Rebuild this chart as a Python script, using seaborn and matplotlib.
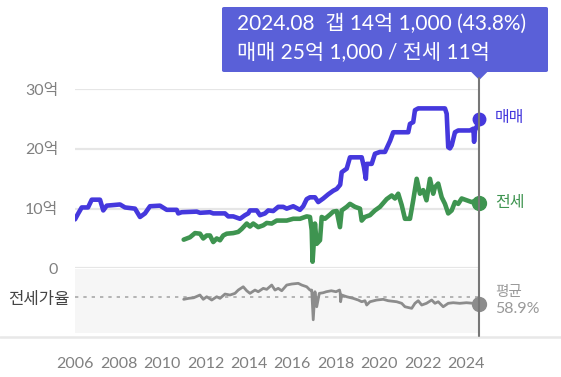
import numpy as np
import pandas as pd
import matplotlib
matplotlib.use("Agg")
import matplotlib.pyplot as plt
from matplotlib.patches import FancyBboxPatch, Polygon
from matplotlib.lines import Line2D
import seaborn as sns

# 매매 (sale price, 억)
sale_t = [2006.00, 2006.15, 2006.31, 2006.60, 2006.77, 2007.15, 2007.30, 2007.46, 2008.07, 2008.30,
          2008.76, 2008.99, 2009.22, 2009.45, 2009.91, 2010.22, 2010.68, 2010.75, 2010.91, 2011.60,
          2011.75, 2012.21, 2012.36, 2012.90, 2013.05, 2013.28, 2013.59, 2013.82, 2013.97, 2014.05,
          2014.36, 2014.51, 2014.74, 2014.89, 2015.12, 2015.35, 2015.58, 2015.74, 2016.04, 2016.35,
          2016.50, 2016.66, 2016.81, 2017.04, 2017.19, 2017.42, 2017.65, 2017.88, 2018.04, 2018.20,
          2018.27, 2018.50, 2018.65, 2019.19, 2019.29, 2019.38, 2019.42, 2019.65, 2019.80, 2020.03,
          2020.26, 2020.50, 2020.64, 2021.33, 2021.41, 2021.56, 2021.64, 2021.79, 2023.02, 2023.10,
          2023.17, 2023.25, 2023.33, 2023.48, 2023.63, 2024.17, 2024.33, 2024.36, 2024.40, 2024.48,
          2024.58]
sale_v = [8.2, 9.2, 10.2, 10.2, 11.5, 11.5, 9.7, 10.5, 10.7, 10.2,
          10.0, 8.6, 9.2, 10.4, 10.5, 9.8, 9.8, 9.2, 9.4, 9.5,
          9.3, 9.4, 9.2, 9.2, 8.7, 8.7, 8.3, 8.9, 9.2, 9.7,
          9.7, 8.9, 9.2, 9.7, 9.6, 10.3, 10.3, 10.0, 10.4, 9.8,
          10.4, 11.6, 11.9, 11.9, 11.1, 11.7, 12.4, 13.0, 13.3, 14.0,
          16.1, 16.7, 18.6, 18.6, 17.0, 15.0, 17.5, 17.5, 19.2, 19.5,
          19.5, 21.4, 22.8, 22.8, 24.2, 24.5, 26.5, 26.8, 26.8, 25.9,
          20.3, 20.1, 20.6, 22.8, 23.1, 23.1, 23.4, 21.2, 23.1, 23.7,
          25.1]

# 전세 (jeonse price, 억)
jeonse_t = [2011.00, 2011.29, 2011.52, 2011.75, 2011.90, 2012.06, 2012.21, 2012.36, 2012.52, 2012.67,
            2012.82, 2012.98, 2013.28, 2013.51, 2013.67, 2013.90, 2014.05, 2014.20, 2014.43, 2014.66,
            2014.82, 2015.05, 2015.28, 2015.74, 2016.04, 2016.35, 2016.66, 2016.81, 2016.89, 2016.93,
            2017.04, 2017.12, 2017.27, 2017.35, 2017.50, 2017.73, 2017.88, 2018.04, 2018.19, 2018.27,
            2018.50, 2018.65, 2018.88, 2019.11, 2019.19, 2019.34, 2019.57, 2019.80, 2020.03, 2020.34,
            2020.57, 2020.72, 2020.87, 2021.03, 2021.18, 2021.41, 2021.56, 2021.72, 2021.87, 2022.02,
            2022.17, 2022.33, 2022.48, 2022.56, 2022.71, 2022.87, 2023.02, 2023.17, 2023.33, 2023.48,
            2023.63, 2023.79, 2024.02, 2024.25, 2024.48, 2024.58]
jeonse_v = [4.8, 5.2, 5.9, 5.8, 5.0, 5.5, 5.5, 4.4, 5.0, 4.7,
            5.5, 5.8, 5.9, 6.1, 6.6, 7.5, 7.0, 7.5, 6.9, 7.2,
            7.6, 7.5, 8.0, 8.0, 8.3, 8.3, 8.7, 8.6, 6.4, 1.1,
            7.5, 4.1, 4.7, 8.6, 8.3, 9.0, 9.5, 9.6, 6.9, 9.7,
            10.3, 10.8, 10.3, 10.0, 8.0, 8.6, 8.9, 9.7, 10.3, 11.6,
            12.2, 11.7, 12.5, 10.6, 8.3, 8.3, 11.4, 15.0, 12.5, 13.1,
            11.4, 15.0, 12.5, 13.6, 14.2, 11.9, 10.8, 9.2, 9.7, 11.1,
            10.8, 11.7, 11.4, 11.1, 11.4, 11.0]

# 전세가율 (%)
ratio_t = [2011.00, 2011.23, 2011.46, 2011.75, 2011.90, 2012.06, 2012.29, 2012.52, 2012.67, 2012.90,
           2013.13, 2013.36, 2013.51, 2013.74, 2013.90, 2014.05, 2014.28, 2014.43, 2014.66, 2014.82,
           2015.05, 2015.20, 2015.35, 2015.51, 2015.74, 2015.97, 2016.27, 2016.43, 2016.66, 2016.81,
           2016.89, 2016.96, 2017.04, 2017.12, 2017.24, 2017.42, 2017.56, 2017.79, 2018.01, 2018.17,
           2018.20, 2018.22, 2018.27, 2018.50, 2018.80, 2019.03, 2019.19, 2019.34, 2019.42, 2019.57,
           2019.88, 2020.18, 2020.41, 2020.80, 2021.03, 2021.18, 2021.49, 2021.64, 2021.79, 2021.95,
           2022.17, 2022.41, 2022.56, 2022.71, 2022.94, 2023.17, 2023.40, 2023.70, 2024.01, 2024.32,
           2024.58]
ratio_v = [54.6, 56.7, 58.0, 63.9, 54.6, 60.2, 53.1, 60.2, 56.7, 66.0,
           63.9, 67.5, 74.6, 81.7, 73.1, 67.5, 74.6, 71.0, 78.3, 76.1,
           85.4, 74.6, 78.3, 73.1, 85.4, 87.6, 89.1, 85.4, 81.7, 74.6,
           74.6, 10.5, 71.0, 38.6, 67.5, 68.8, 71.0, 73.1, 71.0, 74.6,
           68.8, 49.4, 63.9, 60.2, 56.7, 53.1, 49.4, 51.6, 42.3, 49.4,
           53.1, 54.6, 51.6, 49.4, 46.0, 38.6, 35.2, 46.0, 51.6, 42.3,
           46.0, 53.1, 46.0, 49.4, 38.6, 46.0, 47.3, 46.0, 47.3, 46.0,
           43.8]
ratio_avg = 58.9

years = list(range(2006, 2025, 2))
price_ticks = [0, 10, 20, 30]
price_labels = ["0", "10억", "20억", "30억"]

sns.set_style("white")
plt.rcParams["font.family"] = ["Lato", "Noto Sans CJK KR", "DejaVu Sans"]

BLUE = "#4538dd"
GREEN = "#3e9450"
GREY = "#8c8c8c"
W, H = 561, 377

def fx(px):
    return px / W

def fy(py):
    return 1 - py / H

fig = plt.figure(figsize=(W / 100, H / 100), dpi=100)
x0, x1 = 75, 479.3
ax = fig.add_axes([fx(x0), fy(268.3), fx(x1 - x0), (268.3 - 89.3) / H])
ax2 = fig.add_axes([fx(x0), fy(333), fx(x1 - x0), (333 - 269) / H])

sale = pd.DataFrame({"t": sale_t, "v": sale_v})
jeonse = pd.DataFrame({"t": jeonse_t, "v": jeonse_v})
ratio = pd.DataFrame({"t": ratio_t, "v": ratio_v})

xlim = (2006.0, 2024.6)

# main panel
for y in price_ticks:
    ax.axhline(y, color="#e6e6e6", lw=1.6, zorder=0)
sns.lineplot(data=jeonse, x="t", y="v", ax=ax, color=GREEN, lw=3.3, zorder=3)
sns.lineplot(data=sale, x="t", y="v", ax=ax, color=BLUE, lw=3.3, zorder=4)
ax.plot([sale_t[-1]], [sale_v[-1]], "o", color=BLUE, ms=9, clip_on=False, zorder=5)
ax.plot([jeonse_t[-1]], [jeonse_v[-1]], "o", color=GREEN, ms=10, clip_on=False, zorder=5)
ax.set_xlim(*xlim)
ax.set_ylim(0, 30)
ax.set_yticks(price_ticks)
ax.set_yticklabels(price_labels)
ax.set_xticks([])
ax.tick_params(axis="y", length=0, pad=12, labelsize=11.5, labelcolor="#808080")
ax.set_xlabel("")
ax.set_ylabel("")
sns.despine(ax=ax, left=True, bottom=True)

# ratio panel
ax2.set_facecolor("#f6f6f6")
ax2.axhline(ratio_avg, color="#a8a8a8", lw=1.2, ls=(0, (2, 3)), zorder=1)
sns.lineplot(data=ratio, x="t", y="v", ax=ax2, color=GREY, lw=2.0, zorder=3)
ax2.plot([ratio_t[-1]], [ratio_v[-1]], "o", color=GREY, ms=10, clip_on=False, zorder=5)
ax2.set_xlim(*xlim)
ax2.set_ylim(-18, 120)
ax2.set_yticks([])
ax2.set_xticks(years)
ax2.set_xticklabels([str(y) for y in years])
ax2.tick_params(axis="x", length=0, pad=17, labelsize=11.5, labelcolor="#808080")
ax2.set_xlabel("")
ax2.set_ylabel("")
sns.despine(ax=ax2, left=True, bottom=True, top=True, right=True)

# side labels
fig.text(fx(495), fy(118.3), "매매", color=BLUE, fontsize=11.5, va="center")
fig.text(fx(495), fy(202.7), "전세", color=GREEN, fontsize=11.5, va="center")
fig.text(fx(495), fy(292), "평균", color="#999999", fontsize=10.5, va="center")
fig.text(fx(495), fy(309), "58.9%", color="#999999", fontsize=11.5, va="center")
fig.text(fx(8), fy(299), "전세가율", color="#444444", fontsize=12, va="center")

# frame lines
fig.add_artist(Line2D([0, 1], [fy(336.5), fy(336.5)], color="#e8e8e8", lw=1.8))
fig.add_artist(Line2D([fx(x1), fx(x1)], [fy(78), fy(336)], color="#777777", lw=1.5, zorder=2))

# tooltip
tip_color = "#5a60d8"
fig.add_artist(FancyBboxPatch((fx(222), fy(72)), fx(548 - 222), (72 - 7) / H,
                              boxstyle="round,pad=0,rounding_size=0.004",
                              transform=fig.transFigure, fc=tip_color, ec="none"))
fig.add_artist(Polygon([[fx(x1 - 8), fy(72)], [fx(x1 + 8), fy(72)], [fx(x1), fy(80)]],
                       closed=True, transform=fig.transFigure, fc=tip_color, ec="none"))
fig.text(fx(237), fy(24), "2024.08  갭 14억 1,000 (43.8%)", color="white", fontsize=15, va="center")
fig.text(fx(237), fy(53), "매매 25억 1,000 / 전세 11억", color="white", fontsize=15, va="center")

fig.savefig("out.png", dpi=100)
